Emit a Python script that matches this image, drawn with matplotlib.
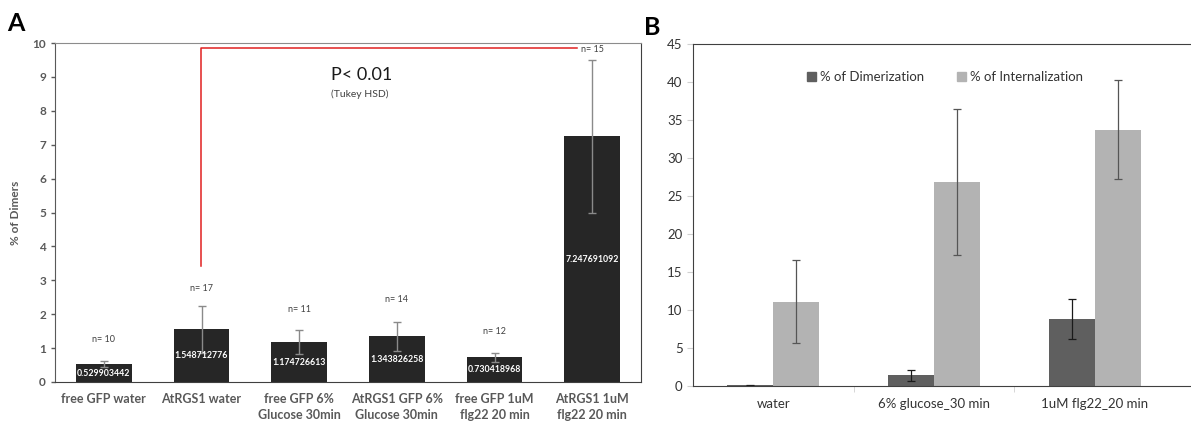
import matplotlib
matplotlib.use('AGG')
import matplotlib.pyplot as plt
from matplotlib.patches import Patch

plt.rcParams['font.family'] = ['Lato', 'DejaVu Sans']

# Panel A data
groups_a = ['free GFP water', 'AtRGS1 water', 'free GFP 6%\nGlucose 30min',
            'AtRGS1 GFP 6%\nGlucose 30min', 'free GFP 1uM\nflg22 20 min',
            'AtRGS1 1uM\nflg22 20 min']
dimers = [0.529903442, 1.548712776, 1.174726613, 1.343826258, 0.730418968, 7.247691092]
dimers_err = [0.10, 0.68, 0.36, 0.42, 0.13, 2.25]
n_counts = [10, 17, 11, 14, 12, 15]
n_pos = [1.26, 2.77, 2.13, 2.42, 1.50, 9.82]

# Panel B data
groups_b = ['water', '6% glucose_30 min', '1uM flg22_20 min']
dimerization = [0.1, 1.4, 8.8]
dimerization_err = [0.05, 0.68, 2.6]
internalization = [11.1, 26.8, 33.7]
internalization_err = [5.45, 9.6, 6.5]

fig = plt.figure(figsize=(11.91, 4.25), dpi=100)

# ---------------- Panel A ----------------
ax = fig.add_axes([0.0462, 0.1012, 0.492, 0.7976])
x = range(len(groups_a))
ax.bar(x, dimers, width=0.57, color='#262626', zorder=2)
ax.errorbar(x, dimers, yerr=dimers_err, fmt='none', ecolor='#8a8a8a',
            elinewidth=1, capsize=3, capthick=1, zorder=3)
for i, v in enumerate(dimers):
    ax.text(i, v / 2, '%.9f' % v, ha='center', va='center', color='white',
            fontsize=6.3, fontweight='bold', zorder=4)
    ax.text(i, n_pos[i], 'n= %d' % n_counts[i], ha='center', va='center',
            color='#404040', fontsize=6.5)

ax.set_xlim(-0.5, 5.5)
ax.set_ylim(0, 10)
ax.set_yticks(range(0, 11))
ax.set_xticks(list(x))
ax.set_xticklabels(groups_a, fontsize=9, fontweight='bold', color='#595959',
                   linespacing=1.35)
ax.tick_params(axis='x', length=0, pad=8)
ax.tick_params(axis='y', labelsize=8.5, labelcolor='#595959', length=3,
               color='#595959', width=1)
for t in ax.get_yticklabels():
    t.set_fontweight('bold')
ax.set_ylabel('% of Dimers', fontsize=8.5, fontweight='bold', color='#595959',
              labelpad=8)
ax.spines['top'].set_color('#8c8c8c')
ax.spines['left'].set_color('#595959')
ax.spines['bottom'].set_color('#404040')
ax.spines['right'].set_color('#404040')

# significance bracket
ax.plot([0.99, 0.99, 4.84], [3.43, 9.84, 9.84], color='#e02020', lw=1.1, zorder=1)
ax.text(2.33, 9.06, 'P< 0.01', fontsize=13, color='#1a1a1a', va='center',
        ha='left')
ax.text(2.33, 8.5, '(Tukey HSD)', fontsize=7.5, color='#404040', va='center',
        ha='left')

fig.text(0.006, 0.945, 'A', fontsize=18, fontweight='bold', va='center')

# ---------------- Panel B ----------------
bx = fig.add_axes([0.5819, 0.0918, 0.4181, 0.8047])
xb = range(len(groups_b))
w = 0.287
pos_d = [i - w / 2 for i in xb]
pos_i = [i + w / 2 for i in xb]
bx.bar(pos_d, dimerization, width=w, color='#5f5f5f', label='% of Dimerization')
bx.bar(pos_i, internalization, width=w, color='#b3b3b3', label='% of Internalization')
bx.errorbar(pos_d, dimerization, yerr=dimerization_err, fmt='none',
            ecolor='#1a1a1a', elinewidth=0.9, capsize=3, capthick=0.9)
bx.errorbar(pos_i, internalization, yerr=internalization_err, fmt='none',
            ecolor='#555555', elinewidth=0.9, capsize=3, capthick=0.9)

bx.set_xlim(-0.5, 2.6)
bx.set_ylim(0, 45)
bx.set_yticks(range(0, 46, 5))
bx.set_xticks([0.5, 1.5], minor=True)
bx.set_xticks(list(xb))
bx.set_xticklabels(groups_b, fontsize=9.5, color='#333333')
bx.tick_params(axis='x', which='major', length=0, pad=9)
bx.tick_params(axis='x', which='minor', length=4, color='#d0d0d0', direction='out')
bx.tick_params(axis='y', labelsize=9.5, labelcolor='#333333', length=4,
               color='#d0d0d0')
for s in ['top', 'left', 'bottom']:
    bx.spines[s].set_color('#404040')
bx.spines['right'].set_visible(False)

handles = [Patch(color='#5f5f5f', label='% of Dimerization'),
           Patch(color='#b3b3b3', label='% of Internalization')]
bx.legend(handles=handles, loc='center', bbox_to_anchor=(0.506, 0.903), ncol=2,
          frameon=False, fontsize=9.5, handlelength=0.7, handleheight=0.7,
          handletextpad=0.3, columnspacing=2.5, labelcolor='#333333')

fig.text(0.541, 0.935, 'B', fontsize=18, fontweight='bold', va='center')

fig.savefig('out.png', dpi=100)
